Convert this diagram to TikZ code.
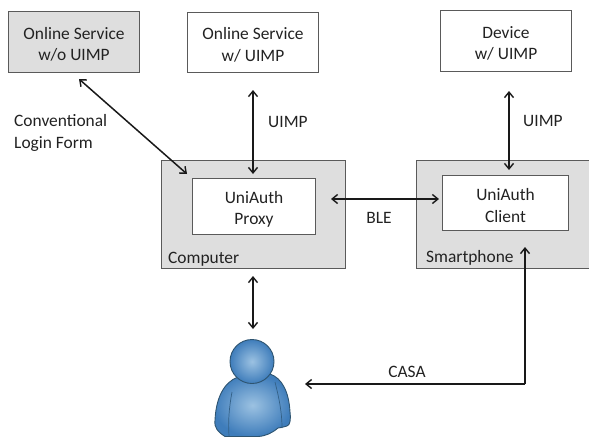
\documentclass[tikz,border=0pt]{standalone}
\usepackage{fontspec}
\setmainfont{Carlito}
\usetikzlibrary{arrows.meta,positioning,calc}
\definecolor{boxedge}{HTML}{5A5A5A}
\definecolor{boxgray}{HTML}{DEDEDE}
\definecolor{txt}{HTML}{222222}
\definecolor{bodyblue}{HTML}{3F7DBB}
\definecolor{bodylight}{HTML}{9CC2E2}
\definecolor{bodyedge}{HTML}{2E5470}
\newcommand{\lowerby}[1]{\rule{0pt}{#1}}
\tikzset{
 x=1pt,y=-1pt,
 lbl/.style={font=\fontsize{17.4}{21.5}\selectfont,text=txt,align=center,inner sep=0pt},
 lblleft/.style={lbl,align=left,anchor=west},
 whitebox/.style={draw=boxedge,line width=1pt,fill=white,inner sep=0pt,anchor=north west,font=\fontsize{17.4}{21.5}\selectfont,text=txt,align=center},
 graybox/.style={whitebox,fill=boxgray},
 arr/.style={line width=1.5pt,draw=black!90,{Straight Barb[length=5.5pt,width=9pt,line width=1.4pt]}-{Straight Barb[length=5.5pt,width=9pt,line width=1.4pt]}},
 onearr/.style={line width=1.5pt,draw=black!90,-{Straight Barb[length=5.5pt,width=9pt,line width=1.4pt]}},
 personpart/.style={draw=bodyedge,line width=0.9pt},
}
\begin{document}
\begin{tikzpicture}
\useasboundingbox (0,0) rectangle (589,437);
% boxes
\node[graybox,minimum width=131pt,minimum height=61pt] (svcA) at (8,11) {\lowerby{17pt}Online Service\\w/o UIMP};
\node[whitebox,minimum width=131pt,minimum height=60pt] (svcB) at (187,12) {\lowerby{17pt}Online Service\\w/ UIMP};
\node[whitebox,minimum width=131pt,minimum height=61pt] (dev) at (440,10) {\lowerby{17pt}Device\\w/ UIMP};
\node[graybox,minimum width=184pt,minimum height=108pt] (comp) at (161,160) {};
\node[graybox,minimum width=176pt,minimum height=108pt] (phone) at (416,160) {};
\node[whitebox,minimum width=123pt,minimum height=56pt] (proxy) at (192,178) {\lowerby{18pt}UniAuth\\Proxy};
\node[whitebox,minimum width=126pt,minimum height=55pt] (client) at (442,175) {\lowerby{17pt}UniAuth\\Client};
% labels
\node[lblleft] (compl) at (168,259) {Computer};
\node[lblleft] (phonel) at (426,258) {Smartphone};
\node[lblleft] (form) at (14,133) {Conventional\\Login Form};
\node[lblleft] (u1) at (268,122) {UIMP};
\node[lblleft] (u2) at (523,121) {UIMP};
\node[lbl] (ble) at (379,218) {BLE};
\node[lbl] (casa) at (407,372) {CASA};
% person
\node[minimum width=76pt,minimum height=96pt,inner sep=0pt] (user) at (252,389) {};
\path[personpart,inner color=bodylight,outer color=bodyblue]
 (225,436.5) .. controls (218,432) and (214,428) .. (215,420)
 .. controls (216,398) and (224,382) .. (238,377)
 -- (270,374)
 .. controls (282,378) and (289,392) .. (290,412)
 .. controls (291,420) and (290,425) .. (287,426)
 .. controls (283,427) and (280,428) .. (278,428)
 .. controls (272,433) and (266,436) .. (258,436.5) -- cycle;
\draw[line width=0.7pt,draw=bodyedge!70!bodyblue] (232,392) .. controls (229,408) and (228,422) .. (229,436);
\draw[line width=0.7pt,draw=bodyedge!70!bodyblue] (275,382) .. controls (279,398) and (282,412) .. (282,428);
\path[personpart,inner color=bodylight,outer color=bodyblue] (252,361.5) circle[radius=22];
% connectors
\coordinate (aE) at (79,79);
\coordinate (cE) at (187,174);
\coordinate (bleL) at (331,199);
\coordinate (bleR) at (439,199);
\coordinate (phoneIn) at (525,247);
\coordinate (corner) at (525,384);
\coordinate (userIn) at (305,384);
\coordinate (compOut) at (253,276);
\coordinate (userTop) at (253,329);
\draw[arr] (aE) -- (cE);
\draw[arr,shorten <=17pt,shorten >=4pt] (svcB.south) -- (svcB.south |- proxy.north);
\draw[arr,shorten <=19pt,shorten >=5pt] ([xshift=3pt]dev.south) -- ([xshift=3pt]dev.south |- client.north);
\draw[arr] (bleL) -- (bleR);
\draw[arr] (compOut) -- (userTop);
\draw[onearr] (corner) -- (phoneIn);
\draw[onearr] (corner) -- (userIn);
\end{tikzpicture}
\end{document}
